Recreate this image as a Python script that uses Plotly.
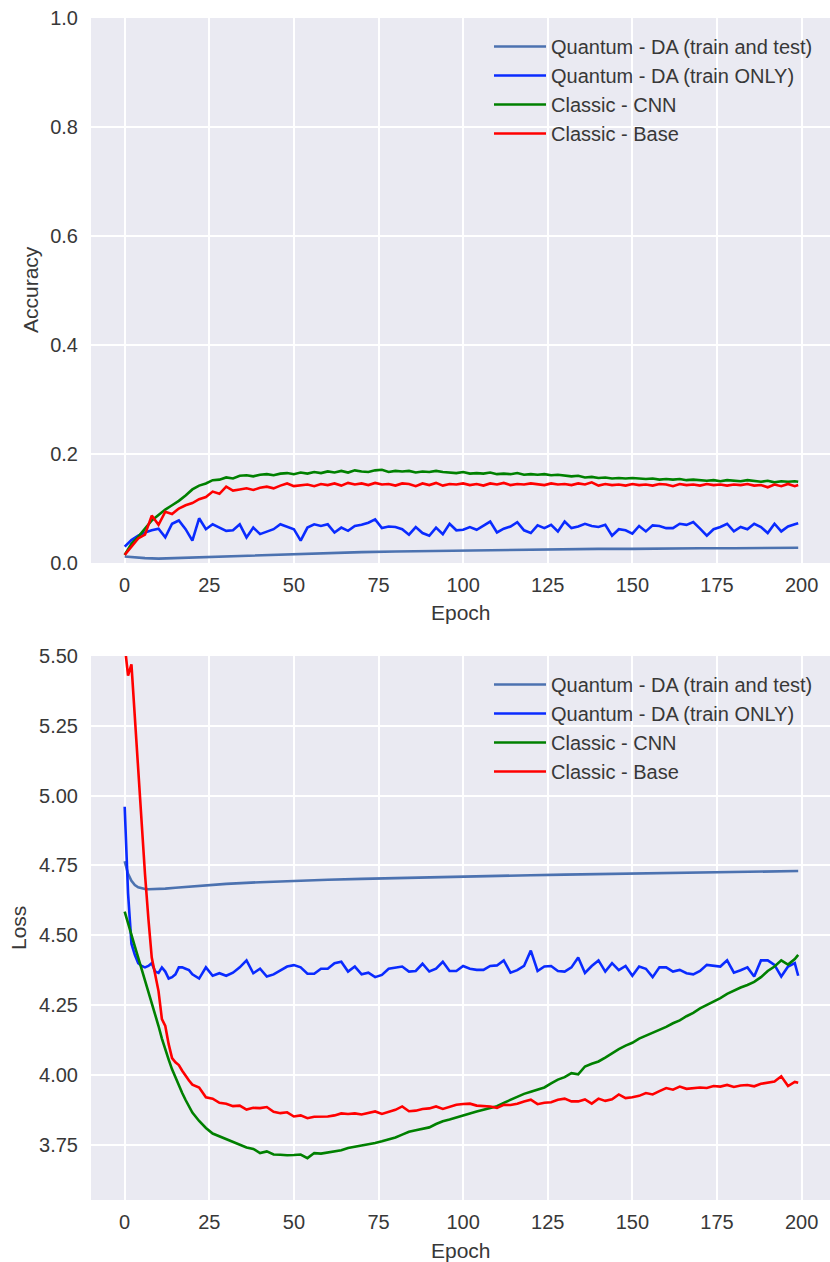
import plotly.graph_objects as go

# ---------------- data ----------------
NAMES = ["Quantum - DA (train and test)", "Quantum - DA (train ONLY)", "Classic - CNN", "Classic - Base"]
COLORS = ["#4C72B0", "#0A2BFF", "#008000", "#FF0000"]

# Accuracy (top)
acc_epochs = list(range(0, 200, 2)) + [199]

acc_lb_epochs = [0, 3, 6, 10, 15, 20, 25, 30, 40, 50, 60, 70, 80, 90, 100, 110, 120, 130, 140, 150, 160, 170, 180, 190, 199]
acc_lightblue = [0.012, 0.010, 0.009, 0.008, 0.009, 0.010, 0.012, 0.013, 0.015, 0.017, 0.019, 0.020, 0.021,
                 0.022, 0.023, 0.024, 0.025, 0.025, 0.026, 0.026, 0.027, 0.027, 0.027, 0.028, 0.028]

acc_blue = [0.030, 0.042, 0.050, 0.056, 0.060, 0.063, 0.047, 0.072, 0.078, 0.062,
            0.041, 0.082, 0.062, 0.071, 0.065, 0.059, 0.060, 0.071, 0.047, 0.065,
            0.053, 0.058, 0.062, 0.071, 0.066, 0.062, 0.041, 0.065, 0.071, 0.068,
            0.071, 0.056, 0.065, 0.059, 0.068, 0.070, 0.074, 0.080, 0.064, 0.067,
            0.066, 0.062, 0.052, 0.066, 0.055, 0.050, 0.065, 0.053, 0.072, 0.060,
            0.061, 0.066, 0.061, 0.068, 0.076, 0.056, 0.063, 0.067, 0.075, 0.060,
            0.055, 0.069, 0.064, 0.070, 0.058, 0.076, 0.064, 0.067, 0.072, 0.068,
            0.066, 0.070, 0.050, 0.062, 0.060, 0.054, 0.068, 0.058, 0.069, 0.068,
            0.064, 0.064, 0.072, 0.070, 0.075, 0.063, 0.050, 0.062, 0.066, 0.072,
            0.058, 0.066, 0.062, 0.072, 0.066, 0.055, 0.072, 0.058, 0.067, 0.071,
            0.073]

acc_green = [0.015, 0.035, 0.048, 0.062, 0.078, 0.088, 0.098, 0.106, 0.114, 0.124,
             0.135, 0.142, 0.146, 0.152, 0.153, 0.157, 0.155, 0.160, 0.161, 0.159,
             0.162, 0.163, 0.161, 0.164, 0.165, 0.163, 0.166, 0.164, 0.167, 0.165,
             0.168, 0.166, 0.169, 0.166, 0.170, 0.168, 0.167, 0.170, 0.171, 0.167,
             0.169, 0.168, 0.169, 0.166, 0.168, 0.167, 0.169, 0.167, 0.166, 0.165,
             0.167, 0.164, 0.165, 0.164, 0.166, 0.163, 0.164, 0.163, 0.165, 0.162,
             0.163, 0.162, 0.163, 0.161, 0.162, 0.160, 0.159, 0.160, 0.157, 0.158,
             0.156, 0.157, 0.155, 0.156, 0.155, 0.156, 0.155, 0.154, 0.155, 0.153,
             0.154, 0.153, 0.154, 0.152, 0.153, 0.152, 0.151, 0.152, 0.150, 0.152,
             0.151, 0.150, 0.152, 0.150, 0.149, 0.151, 0.148, 0.150, 0.149, 0.150,
             0.149]

acc_red = [0.015, 0.030, 0.045, 0.052, 0.087, 0.070, 0.094, 0.090, 0.100, 0.106,
           0.110, 0.117, 0.121, 0.131, 0.127, 0.140, 0.133, 0.135, 0.137, 0.134,
           0.138, 0.140, 0.137, 0.142, 0.146, 0.141, 0.143, 0.144, 0.141, 0.145,
           0.143, 0.146, 0.142, 0.147, 0.144, 0.146, 0.143, 0.147, 0.144, 0.145,
           0.142, 0.146, 0.145, 0.141, 0.146, 0.143, 0.147, 0.142, 0.145, 0.144,
           0.146, 0.143, 0.145, 0.142, 0.146, 0.144, 0.147, 0.143, 0.145, 0.144,
           0.146, 0.145, 0.143, 0.146, 0.144, 0.145, 0.143, 0.146, 0.144, 0.148,
           0.142, 0.145, 0.143, 0.144, 0.142, 0.145, 0.143, 0.144, 0.142, 0.145,
           0.144, 0.141, 0.145, 0.143, 0.144, 0.142, 0.145, 0.143, 0.144, 0.142,
           0.144, 0.143, 0.145, 0.142, 0.143, 0.139, 0.144, 0.141, 0.145, 0.141,
           0.143]

# Loss (bottom)
loss_epochs = list(range(0, 20)) + list(range(20, 200, 2)) + [199]

loss_lb_epochs = [0, 1, 2, 3, 4, 5, 6, 7, 8, 10, 12, 15, 20, 25, 30, 40, 50, 60, 70, 80, 90, 100,
                  110, 120, 130, 140, 150, 160, 170, 180, 190, 199]
loss_lightblue = [4.765, 4.72, 4.695, 4.68, 4.672, 4.668, 4.666, 4.665, 4.665, 4.666, 4.667, 4.670,
                  4.675, 4.680, 4.684, 4.690, 4.695, 4.699, 4.702, 4.705, 4.708, 4.710, 4.713, 4.715,
                  4.717, 4.719, 4.721, 4.723, 4.725, 4.727, 4.728, 4.730]

loss_blue = [4.96, 4.65, 4.47, 4.43, 4.40, 4.39, 4.385, 4.39, 4.40, 4.37,
             4.365, 4.385, 4.37, 4.345, 4.35, 4.36, 4.385, 4.385, 4.38, 4.375,
             4.36, 4.345, 4.385, 4.355, 4.364, 4.355, 4.366, 4.385, 4.41, 4.364,
             4.38, 4.352, 4.36, 4.375, 4.388, 4.393, 4.385, 4.362, 4.362, 4.38,
             4.38, 4.40, 4.405, 4.37, 4.388, 4.36, 4.366, 4.35, 4.358, 4.38,
             4.384, 4.388, 4.37, 4.372, 4.398, 4.37, 4.38, 4.405, 4.372, 4.372,
             4.39, 4.38, 4.376, 4.376, 4.39, 4.392, 4.41, 4.366, 4.375, 4.39,
             4.445, 4.372, 4.388, 4.39, 4.372, 4.37, 4.385, 4.42, 4.365, 4.39,
             4.41, 4.37, 4.40, 4.375, 4.39, 4.355, 4.388, 4.38, 4.35, 4.385,
             4.385, 4.37, 4.376, 4.364, 4.36, 4.372, 4.394, 4.392, 4.388, 4.41,
             4.366, 4.375, 4.385, 4.352, 4.41, 4.41, 4.394, 4.352, 4.388, 4.40,
             4.355]

loss_green = [4.585, 4.54, 4.50, 4.46, 4.42, 4.38, 4.34, 4.30, 4.255, 4.215,
              4.175, 4.13, 4.09, 4.055, 4.02, 3.99, 3.96, 3.935, 3.91, 3.885,
              3.865, 3.835, 3.81, 3.79, 3.78, 3.77, 3.76, 3.75, 3.74, 3.735,
              3.72, 3.726, 3.715, 3.714, 3.712, 3.713, 3.715, 3.702, 3.72, 3.718,
              3.722, 3.725, 3.73, 3.738, 3.742, 3.748, 3.752, 3.756, 3.762, 3.768,
              3.776, 3.786, 3.796, 3.802, 3.808, 3.812, 3.824, 3.834, 3.84, 3.848,
              3.855, 3.862, 3.869, 3.875, 3.88, 3.888, 3.90, 3.911, 3.92, 3.932,
              3.94, 3.948, 3.955, 3.97, 3.983, 3.992, 4.006, 4.002, 4.03, 4.04,
              4.048, 4.062, 4.078, 4.092, 4.105, 4.115, 4.13, 4.14, 4.152, 4.162,
              4.172, 4.185, 4.195, 4.21, 4.222, 4.238, 4.25, 4.262, 4.275, 4.29,
              4.303, 4.313, 4.322, 4.333, 4.35, 4.372, 4.388, 4.41, 4.395, 4.415,
              4.43]

loss_red = [5.54, 5.43, 5.47, 5.28, 5.08, 4.88, 4.72, 4.56, 4.42, 4.36,
            4.30, 4.20, 4.175, 4.11, 4.06, 4.045, 4.035, 4.015, 3.995, 3.98,
            3.965, 3.955, 3.92, 3.915, 3.90, 3.897, 3.888, 3.89, 3.876, 3.882,
            3.881, 3.885, 3.868, 3.863, 3.866, 3.851, 3.855, 3.845, 3.85, 3.85,
            3.851, 3.855, 3.862, 3.86, 3.862, 3.858, 3.864, 3.869, 3.86, 3.868,
            3.875, 3.887, 3.87, 3.872, 3.878, 3.88, 3.887, 3.878, 3.885, 3.893,
            3.896, 3.897, 3.89, 3.888, 3.887, 3.882, 3.893, 3.892, 3.897, 3.905,
            3.911, 3.895, 3.90, 3.902, 3.911, 3.915, 3.905, 3.905, 3.912, 3.897,
            3.915, 3.907, 3.913, 3.93, 3.917, 3.92, 3.925, 3.935, 3.93, 3.942,
            3.953, 3.947, 3.958, 3.95, 3.952, 3.955, 3.953, 3.96, 3.958, 3.964,
            3.957, 3.962, 3.964, 3.959, 3.968, 3.972, 3.976, 3.995, 3.96, 3.975,
            3.972]

acc_tick_vals = [0.0, 0.2, 0.4, 0.6, 0.8, 1.0]
acc_tick_text = ["0.0", "0.2", "0.4", "0.6", "0.8", "1.0"]
loss_tick_vals = [3.75, 4.00, 4.25, 4.50, 4.75, 5.00, 5.25, 5.50]
loss_tick_text = ["3.75", "4.00", "4.25", "4.50", "4.75", "5.00", "5.25", "5.50"]
epoch_ticks = [0, 25, 50, 75, 100, 125, 150, 175, 200]

# ---------------- figure ----------------
W, H = 830, 1262
L, R, T, B = 91, 0, 18, 62
PH = H - T - B  # 1182


def py(pix):
    return (H - B - pix) / PH


def px(pix):
    return (pix - L) / (W - L - R)


fig = go.Figure()

acc_sets = [(acc_lb_epochs, acc_lightblue), (acc_epochs, acc_blue), (acc_epochs, acc_green), (acc_epochs, acc_red)]
loss_sets = [(loss_lb_epochs, loss_lightblue), (loss_epochs, loss_blue), (loss_epochs, loss_green), (loss_epochs, loss_red)]

for i, (xs, ys) in enumerate(acc_sets):
    fig.add_trace(go.Scatter(x=xs, y=ys, mode="lines", name=NAMES[i],
                             line=dict(color=COLORS[i], width=2.6),
                             xaxis="x", yaxis="y", legend="legend"))
for i, (xs, ys) in enumerate(loss_sets):
    fig.add_trace(go.Scatter(x=xs, y=ys, mode="lines", name=NAMES[i],
                             line=dict(color=COLORS[i], width=2.6),
                             xaxis="x2", yaxis="y2", legend="legend2"))

TXT = "#383838"
FONT = "Liberation Sans, Arial, sans-serif"
tickfont = dict(family=FONT, size=20, color=TXT)

common_x = dict(range=[-9.95, 208.4], tickvals=epoch_ticks, showgrid=True, gridcolor="white",
                gridwidth=1.6, zeroline=False, showline=False, ticks="", tickfont=tickfont,
                ticklabelstandoff=8)
common_y = dict(showgrid=True, gridcolor="white", gridwidth=1.6, zeroline=False, showline=False,
                ticks="", tickfont=tickfont, ticklabelstandoff=12)

legend_font = dict(family=FONT, size=20, color=TXT)

fig.update_layout(
    width=W, height=H,
    margin=dict(l=L, r=R, t=T, b=B, pad=0),
    paper_bgcolor="white",
    plot_bgcolor="#EAEAF2",
    font=dict(family=FONT, color=TXT),
    xaxis=dict(domain=[0, 1], anchor="y", **common_x),
    yaxis=dict(domain=[py(563), 1], anchor="x", range=[0, 1.0], tickvals=acc_tick_vals,
               ticktext=acc_tick_text, **common_y),
    xaxis2=dict(domain=[0, 1], anchor="y2", **common_x),
    yaxis2=dict(domain=[0, py(656)], anchor="x2", range=[3.552, 5.5], tickvals=loss_tick_vals,
                ticktext=loss_tick_text, **common_y),
    legend=dict(x=px(489), y=py(27), xanchor="left", yanchor="top", bgcolor="rgba(0,0,0,0)",
                font=legend_font, itemwidth=52, tracegroupgap=0),
    legend2=dict(x=px(489), y=py(665), xanchor="left", yanchor="top", bgcolor="rgba(0,0,0,0)",
                 font=legend_font, itemwidth=52, tracegroupgap=0),
    showlegend=True,
)

annots = [
    dict(text="Epoch", x=px(461), y=py(612)),
    dict(text="Epoch", x=px(461), y=py(1250)),
    dict(text="Accuracy", x=px(30), y=py(290), textangle=-90),
    dict(text="Loss", x=px(18), y=py(928), textangle=-90),
]
for a in annots:
    fig.add_annotation(xref="paper", yref="paper", showarrow=False, xanchor="center", yanchor="middle",
                       font=dict(family=FONT, size=21, color=TXT), **a)

fig.write_html("out.html")
